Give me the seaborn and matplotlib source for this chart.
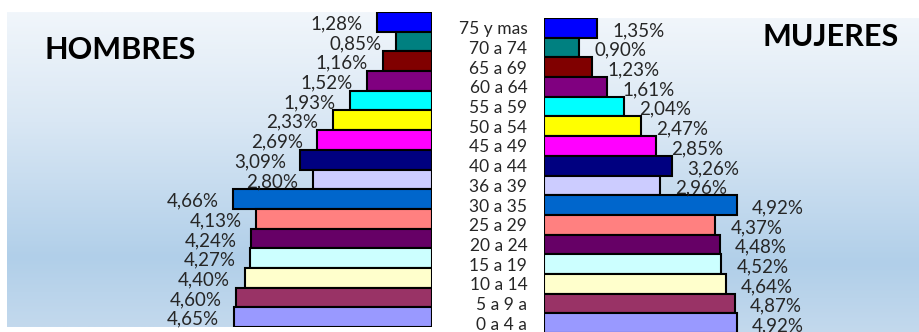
import numpy as np
import pandas as pd
import matplotlib
matplotlib.use("Agg")
import matplotlib.pyplot as plt
from matplotlib.colors import LinearSegmentedColormap
import seaborn as sns

# Age groups, from the oldest (top) to the youngest (bottom)
edades = ["75 y mas", "70 a 74", "65 a 69", "60 a 64", "55 a 59", "50 a 54",
          "45 a 49", "40 a 44", "36 a 39", "30 a 35", "25 a 29", "20 a 24",
          "15 a 19", "10 a 14", "5 a 9 a", "0 a 4 a"]
hombres = [1.28, 0.85, 1.16, 1.52, 1.93, 2.33, 2.69, 3.09, 2.80, 4.66,
           4.13, 4.24, 4.27, 4.40, 4.60, 4.65]
mujeres = [1.35, 0.90, 1.23, 1.61, 2.04, 2.47, 2.85, 3.26, 2.96, 4.92,
           4.37, 4.48, 4.52, 4.64, 4.87, 4.92]
colores = ["#0000FF", "#008080", "#800000", "#800080", "#00FFFF", "#FFFF00",
           "#FF00FF", "#000080", "#CCCCFF", "#0066CC", "#FF8080", "#660066",
           "#CCFFFF", "#FFFFCC", "#993366", "#9999FF"]

df = pd.DataFrame({"Edad": edades, "Hombres": hombres, "Mujeres": mujeres})
paleta = dict(zip(edades, colores))

sns.set_theme(style="white")
plt.rcParams["font.family"] = ["Lato", "DejaVu Sans"]

W, H = 920, 332
fig = plt.figure(figsize=(W / 100, H / 100), dpi=100)
fig.patch.set_facecolor("white")

fondo = LinearSegmentedColormap.from_list(
    "fondo", [(0.0, "#f1f6fb"), (0.35, "#d9e7f4"), (0.78, "#b1cfe9"), (1.0, "#c3d9ed")])
grad = np.linspace(0, 1, 256).reshape(-1, 1)


def px_box(x0, y_top, x1, y_bot):
    return [x0 / W, (H - y_bot) / H, (x1 - x0) / W, (y_bot - y_top) / H]


def panel(box):
    bg = fig.add_axes(box, zorder=0)
    bg.imshow(grad, cmap=fondo, aspect="auto", extent=[0, 1, 1, 0])
    bg.set_axis_off()
    ax = fig.add_axes(box, zorder=1)
    ax.set_facecolor("none")
    return ax


def fmt(v):
    return f"{v:.2f}%".replace(".", ",")


# Men: bars grow to the left from x = 432 px
ax_h = panel(px_box(7, 12, 432, 327))
sns.barplot(data=df, x="Hombres", y="Edad", hue="Edad", order=edades,
            palette=paleta, saturation=1, orient="h", width=1.0,
            edgecolor="black", linewidth=1.5, legend=False, ax=ax_h)
ax_h.set_xlim(425 / 42.6, 0)
ax_h.set_ylim(len(edades) - 0.5, -0.5)
for i, v in enumerate(hombres):
    ax_h.annotate(fmt(v), (v, i), xytext=(-10.5, -1.5), textcoords="offset points",
                  ha="right", va="center", fontsize=13.5, color="#262626")
ax_h.set_axis_off()
fig.text(120 / W, 1 - 50 / H, "HOMBRES", ha="center", va="center",
         fontsize=22, fontweight="bold", color="black")

# Women: bars grow to the right from x = 544 px
ax_m = panel(px_box(544, 18, 920, 333))
sns.barplot(data=df, x="Mujeres", y="Edad", hue="Edad", order=edades,
            palette=paleta, saturation=1, orient="h", width=1.0,
            edgecolor="black", linewidth=1.5, legend=False, ax=ax_m)
ax_m.set_xlim(0, 376 / 39.2)
ax_m.set_ylim(len(edades) - 0.5, -0.5)
for i, v in enumerate(mujeres):
    ax_m.annotate(fmt(v), (v, i), xytext=(11, -2), textcoords="offset points",
                  ha="left", va="center", fontsize=13.5, color="#262626")
for s in ax_m.spines.values():
    s.set_visible(False)
ax_m.set_xticks([])
ax_m.set_xlabel("")
ax_m.set_ylabel("")
ax_m.tick_params(axis="y", length=0, pad=12, labelsize=12.5, labelcolor="#262626")
fig.text(831 / W, 1 - 37 / H, "MUJERES", ha="center", va="center",
         fontsize=22, fontweight="bold", color="black")

fig.savefig("out.png", dpi=100, facecolor="white")
